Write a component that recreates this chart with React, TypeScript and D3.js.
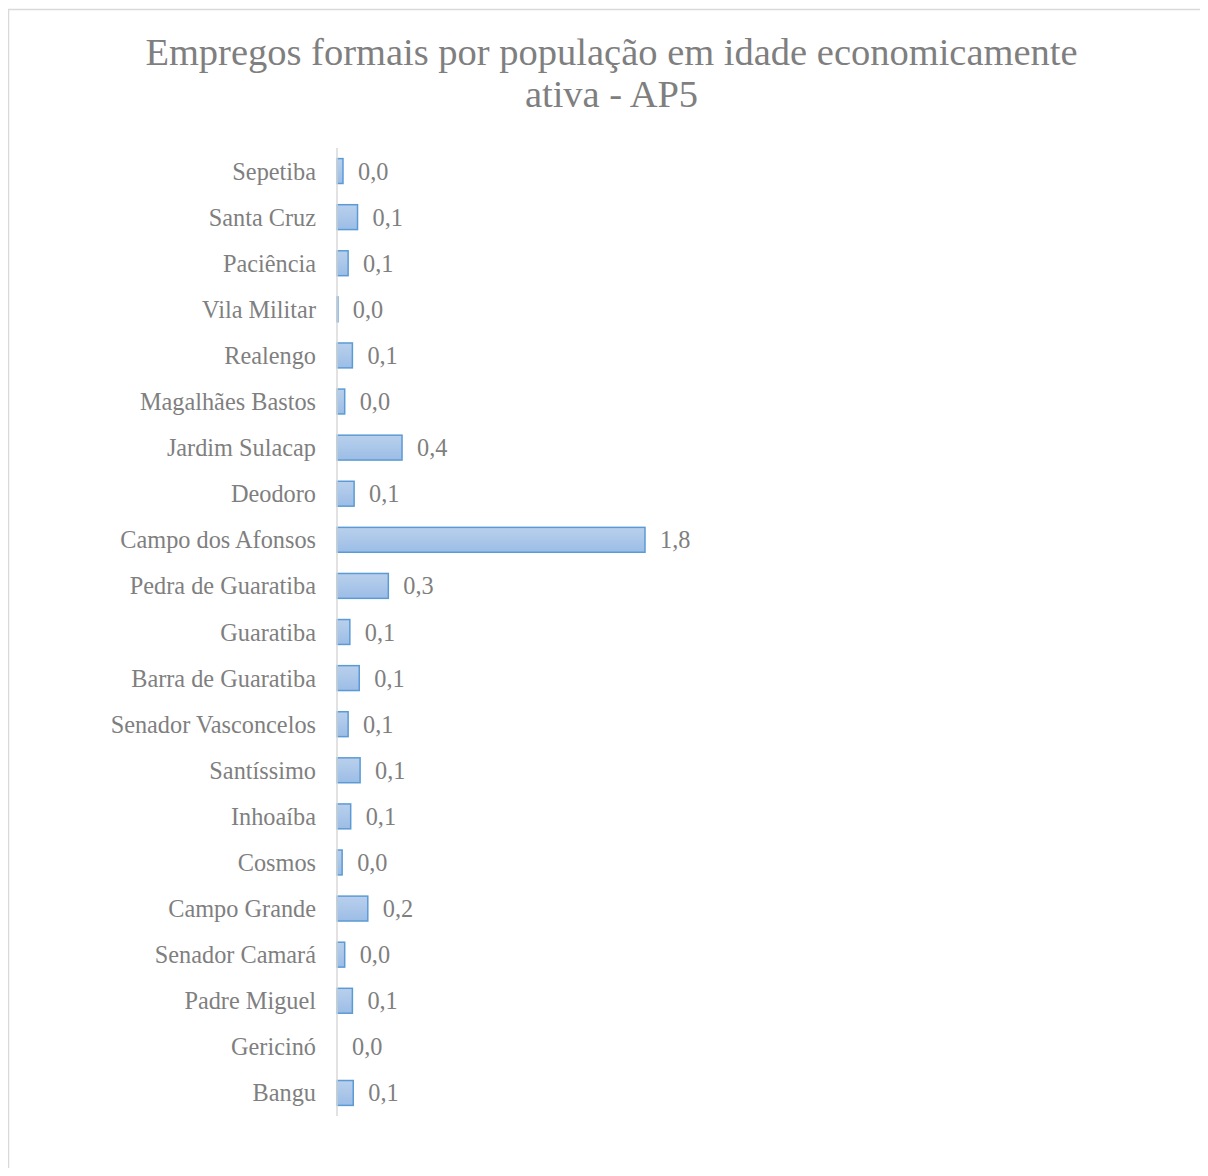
import * as d3 from "d3";

const categories = [
  "Sepetiba", "Santa Cruz", "Paciência", "Vila Militar", "Realengo", "Magalhães Bastos",
  "Jardim Sulacap", "Deodoro", "Campo dos Afonsos", "Pedra de Guaratiba", "Guaratiba",
  "Barra de Guaratiba", "Senador Vasconcelos", "Santíssimo", "Inhoaíba", "Cosmos",
  "Campo Grande", "Senador Camará", "Padre Miguel", "Gericinó", "Bangu",
];
const values = [
  0.035, 0.12, 0.065, 0.005, 0.09, 0.045, 0.38, 0.1, 1.8, 0.3, 0.075,
  0.13, 0.065, 0.135, 0.08, 0.03, 0.18, 0.045, 0.09, 0, 0.095,
];
const titleLines = ["Empregos formais por população em idade economicamente", "ativa - AP5"];

const W = 1200;
const H = 1160;
const FONT = "'Liberation Serif', 'Times New Roman', serif";
const TXT = "#7f7f7f";

export default function App() {
  const x0 = 329;
  const x = d3.scaleLinear().domain([0, 1.8]).range([x0, x0 + 308]);
  const y = d3.scaleBand<string>().domain(categories).range([140, 1108]).paddingInner(0.46).paddingOuter(0.23);
  const fmt = (v: number) => d3.format(".1f")(v).replace(".", ",");

  return (
    <svg width={W} height={H} style={{ display: "block" }} fontFamily={FONT}>
      <defs>
        <linearGradient id="barGrad" x1="0" y1="0" x2="0" y2="1">
          <stop offset="0%" stopColor="#b9d0ec" />
          <stop offset="100%" stopColor="#9cbde6" />
        </linearGradient>
      </defs>
      <rect x={0.5} y={1.5} width={1300} height={1300} fill="#fff" stroke="#d9d9d9" strokeWidth={1.5} />
      {titleLines.map((t, i) => (
        <text key={i} x={603.5} y={57 + i * 42} textAnchor="middle" fontSize={38.5} fill={TXT}>
          {t}
        </text>
      ))}
      {categories.map((c, i) => {
        const yy = y(c) ?? 0;
        const v = values[i];
        const w = x(v) - x0;
        return (
          <g key={c}>
            <text x={x0 - 21} y={yy + y.bandwidth() / 2} dy="0.35em" textAnchor="end" fontSize={24.3} fill={TXT}>
              {c}
            </text>
            {w > 0 && (
              <rect x={x0} y={yy} width={w} height={y.bandwidth()} fill="url(#barGrad)" stroke="#5b9bd5" strokeWidth={1.5} />
            )}
            <text x={x(v) + 15} y={yy + y.bandwidth() / 2} dy="0.35em" fontSize={24.3} fill={TXT}>
              {fmt(v)}
            </text>
          </g>
        );
      })}
      <line x1={x0} x2={x0} y1={140} y2={1108} stroke="#d9d9d9" strokeWidth={1.5} />
    </svg>
  );
}
